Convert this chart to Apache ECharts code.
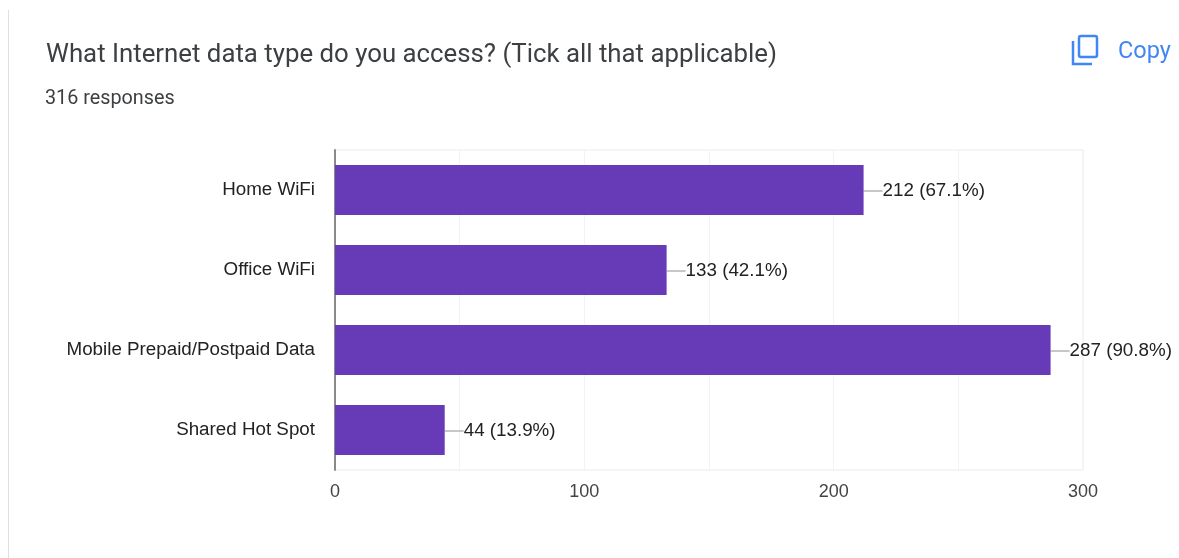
<!DOCTYPE html>
<html>
<head>
<meta charset="utf-8">
<style>html,body{margin:0;padding:0;background:#fff}#c{width:1179px;height:558px}</style>
<script src="https://cdn.jsdelivr.net/npm/echarts@6/dist/echarts.min.js"></script>
</head>
<body>
<div id="c"></div>
<script>
const categories = ["Home WiFi", "Office WiFi", "Mobile Prepaid/Postpaid Data", "Shared Hot Spot"];
const counts = [212, 133, 287, 44];
const percents = ["67.1%", "42.1%", "90.8%", "13.9%"];
const tickLabels = { 0: "0", 100: "100", 200: "200", 300: "300" };
const titleText = "What Internet data type do you access? (Tick all that applicable)";
const subtitleText = "316 responses";

const chart = echarts.init(document.getElementById("c"), null, { renderer: "canvas" });
chart.setOption({
  animation: false,
  backgroundColor: "#ffffff",
  title: [
    { text: titleText, left: 41, top: 38, textStyle: { fontFamily: "Roboto", fontSize: 25.8, fontWeight: 400, color: "#3c4043" } },
    { text: subtitleText, left: 40, top: 84, textStyle: { fontFamily: "Roboto", fontSize: 19.8, fontWeight: 400, color: "#3c4043" } }
  ],
  grid: { left: 335, right: 96, top: 150, bottom: 88, containLabel: false, show: true, borderColor: "#ececec", borderWidth: 1 },
  xAxis: {
    type: "value", min: 0, max: 300, interval: 50,
    axisLine: { show: false }, axisTick: { show: false },
    splitLine: { show: true, lineStyle: { color: "#f3f3f3", width: 1 } },
    axisLabel: {
      margin: 13, fontFamily: "Liberation Sans", fontSize: 18, color: "#444444",
      formatter: v => tickLabels[v] || ""
    }
  },
  yAxis: {
    type: "category", inverse: true, data: categories,
    axisLine: { show: true, lineStyle: { color: "#8a8a8a", width: 2 } },
    axisTick: { show: false },
    axisLabel: { margin: 20, fontFamily: "Liberation Sans", fontSize: 18.8, color: "#222222" }
  },
  series: [{
    type: "bar", data: counts, barWidth: 50,
    itemStyle: { color: "#673ab7" },
    label: {
      show: true, position: "right", distance: 0,
      fontFamily: "Liberation Sans", fontSize: 18.8, color: "#222222",
      formatter: p => counts[p.dataIndex] + " (" + percents[p.dataIndex] + ")"
    },
    labelLayout: { dx: 19, dy: 1 },
    labelLine: { show: true, lineStyle: { color: "#b5b5b5", width: 1.5 } }
  }],
  graphic: [
    { type: "rect", shape: { x: 8, y: 10, width: 1, height: 548 }, style: { fill: "#dfe0e6" } },
    { type: "rect", shape: { x: 1079, y: 36, width: 18, height: 21, r: 2 }, style: { fill: "none", stroke: "#4285f4", lineWidth: 2.5 } },
    { type: "polyline", shape: { points: [[1073, 41], [1073, 64], [1092, 64]] }, style: { fill: "none", stroke: "#4285f4", lineWidth: 2.5 } },
    { type: "text", style: { x: 1118, y: 40, text: "Copy", fontFamily: "Roboto", fontSize: 23.5, fontWeight: 400, fill: "#4285f4" } }
  ]
});
</script>
</body>
</html>
